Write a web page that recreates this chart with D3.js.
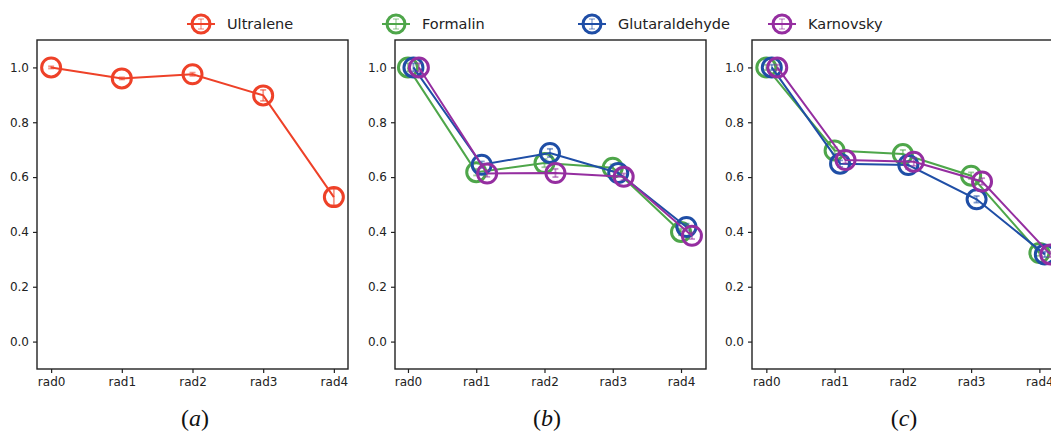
<!DOCTYPE html>
<html>
<head>
<meta charset="utf-8">
<script src="https://cdn.jsdelivr.net/npm/d3@7"></script>
<style>
    body { margin: 0; background: #fff; }
    .axis text { font-family: "DejaVu Sans", sans-serif; font-size: 12px; fill: #222; }
    .axis path { display: none; }
    .axis line { stroke: #222; stroke-width: 1.2; }
    .legend text { font-family: "DejaVu Sans", sans-serif; font-size: 14.5px; fill: #222; }
    .caption { font-family: "Liberation Serif", "DejaVu Serif", serif; font-size: 24px; fill: #111; }
</style>
</head>
<body>
<div id="chart"></div>
<script>

// categories and tick labels
const radii = ['rad0', 'rad1', 'rad2', 'rad3', 'rad4'];
const yTicks = [0.0, 0.2, 0.4, 0.6, 0.8, 1.0];

// panel (a)
const ultralene    = [1.000, 0.960, 0.975, 0.898, 0.527];
const ultraleneErr = [0.004, 0.004, 0.006, 0.020, 0.030];

// panel (b)
const formalinB = [1.000, 0.618, 0.651, 0.634, 0.400];
const glutB     = [1.000, 0.645, 0.688, 0.615, 0.418];
const karnB     = [1.000, 0.613, 0.615, 0.601, 0.386];
const errB      = [0.015, 0.012, 0.015, 0.012, 0.012];

// panel (c)
const formalinC = [1.000, 0.697, 0.684, 0.605, 0.323];
const glutC     = [1.000, 0.649, 0.644, 0.519, 0.318];
const karnC     = [1.000, 0.662, 0.656, 0.584, 0.318];
const errC      = [0.010, 0.012, 0.015, 0.012, 0.010];

const colors = {
    Ultralene: '#ee4128',
    Formalin: '#4ea64a',
    Glutaraldehyde: '#1f4ea6',
    Karnovsky: '#952ea0'
}

const W = 1051, H = 435;

const svg = d3.select('#chart').append('svg')
    .attr('width', W)
    .attr('height', H);

// panel frames
const panels = [
    {left: 37, top: 40, width: 311, height: 329, xDomain: [-0.2, 4.2], caption: 'a', capX: 195,
        series: [{name: 'Ultralene', values: ultralene, err: ultraleneErr, offset: 0}]},
    {left: 395, top: 40, width: 311, height: 329, xDomain: [-0.19, 4.366], caption: 'b', capX: 547,
        series: [
            {name: 'Formalin', values: formalinB, err: errB, offset: 0},
            {name: 'Glutaraldehyde', values: glutB, err: errB, offset: 0.08},
            {name: 'Karnovsky', values: karnB, err: errB, offset: 0.16}
        ]},
    {left: 752, top: 40, width: 311, height: 329, xDomain: [-0.21, 4.346], caption: 'c', capX: 904,
        series: [
            {name: 'Formalin', values: formalinC, err: errC, offset: 0},
            {name: 'Glutaraldehyde', values: glutC, err: errC, offset: 0.08},
            {name: 'Karnovsky', values: karnC, err: errC, offset: 0.16}
        ]}
];

panels.forEach(p => {
    let g = svg.append('g').attr('transform', `translate(${p.left}, ${p.top})`);

    let x = d3.scaleLinear().domain(p.xDomain).range([0, p.width]);
    let y = d3.scaleLinear().domain([-0.1, 1.1]).range([p.height, 0]);

    // axes
    g.append('g')
        .attr('class', 'axis')
        .attr('transform', `translate(0, ${p.height})`)
        .call(d3.axisBottom(x).tickValues(d3.range(radii.length)).tickFormat(i => radii[i]).tickSize(4).tickPadding(4));

    g.append('g')
        .attr('class', 'axis')
        .call(d3.axisLeft(y).tickValues(yTicks).tickFormat(d3.format('.1f')).tickSize(4).tickPadding(4));

    // series
    p.series.forEach(s => {
        let c = colors[s.name];
        let pts = s.values.map((v, i) => ({x: i + s.offset, y: v, e: s.err[i]}));

        g.append('path')
            .datum(pts)
            .attr('fill', 'none')
            .attr('stroke', c)
            .attr('stroke-width', 2)
            .attr('d', d3.line().x(d => x(d.x)).y(d => y(d.y)));

        let eb = g.append('g').attr('stroke', c).attr('stroke-opacity', 0.55).attr('stroke-width', 1.8);
        eb.selectAll('.ebar').data(pts).enter().append('line')
            .attr('x1', d => x(d.x)).attr('x2', d => x(d.x))
            .attr('y1', d => y(d.y - d.e)).attr('y2', d => y(d.y + d.e));
        eb.selectAll('.capTop').data(pts).enter().append('line')
            .attr('x1', d => x(d.x) - 3).attr('x2', d => x(d.x) + 3)
            .attr('y1', d => y(d.y + d.e)).attr('y2', d => y(d.y + d.e));
        eb.selectAll('.capBot').data(pts).enter().append('line')
            .attr('x1', d => x(d.x) - 3).attr('x2', d => x(d.x) + 3)
            .attr('y1', d => y(d.y - d.e)).attr('y2', d => y(d.y - d.e));

        g.selectAll(null).data(pts).enter().append('circle')
            .attr('cx', d => x(d.x))
            .attr('cy', d => y(d.y))
            .attr('r', 9.5)
            .attr('fill', 'none')
            .attr('stroke', c)
            .attr('stroke-width', 3);
    });

    // frame
    g.append('rect')
        .attr('width', p.width)
        .attr('height', p.height)
        .attr('fill', 'none')
        .attr('stroke', '#222')
        .attr('stroke-width', 1.4);

    // caption
    let cap = svg.append('text')
        .attr('class', 'caption')
        .attr('x', p.capX)
        .attr('y', 426)
        .attr('text-anchor', 'middle');
    cap.append('tspan').text('(');
    cap.append('tspan').attr('font-style', 'italic').text(p.caption);
    cap.append('tspan').text(')');
});

// legend
const legendItems = [
    {name: 'Ultralene', x: 201},
    {name: 'Formalin', x: 396},
    {name: 'Glutaraldehyde', x: 592},
    {name: 'Karnovsky', x: 782}
];

let legend = svg.append('g').attr('class', 'legend');
legendItems.forEach(item => {
    let c = colors[item.name];
    let lg = legend.append('g').attr('transform', `translate(${item.x}, 24)`);
    lg.append('line').attr('x1', -14).attr('x2', 14).attr('stroke', c).attr('stroke-width', 2);
    lg.append('line').attr('y1', -5).attr('y2', 5).attr('stroke', c).attr('stroke-opacity', 0.45).attr('stroke-width', 1.6);
    lg.append('line').attr('x1', -3).attr('x2', 3).attr('y1', -5).attr('y2', -5).attr('stroke', c).attr('stroke-opacity', 0.45).attr('stroke-width', 1.4);
    lg.append('line').attr('x1', -3).attr('x2', 3).attr('y1', 5).attr('y2', 5).attr('stroke', c).attr('stroke-opacity', 0.45).attr('stroke-width', 1.4);
    lg.append('circle').attr('r', 9).attr('fill', 'none').attr('stroke', c).attr('stroke-width', 3);
    lg.append('text').attr('x', 26).attr('y', 5).text(item.name);
});

</script>
</body>
</html>
